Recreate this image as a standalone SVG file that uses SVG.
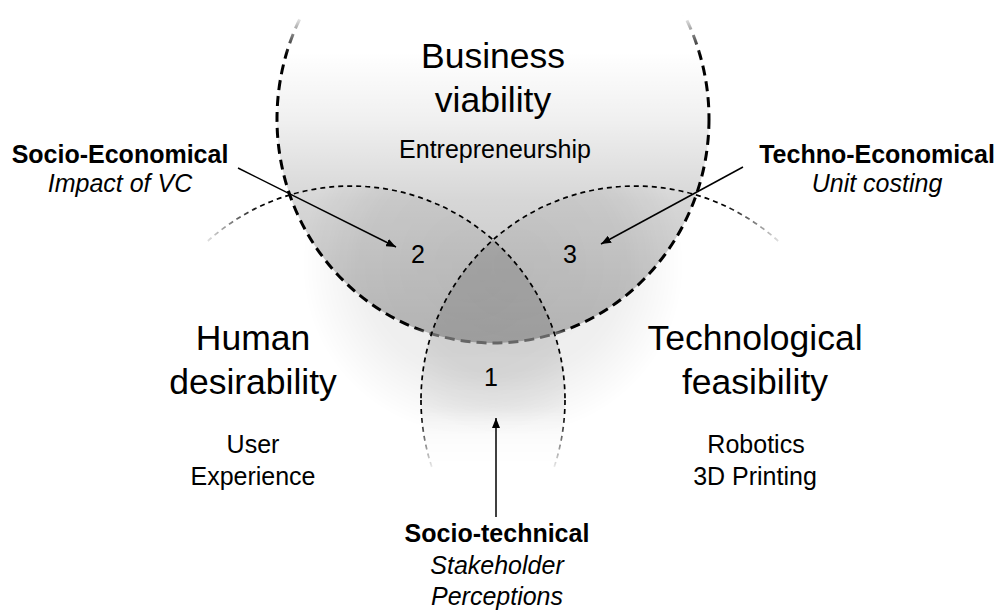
<svg xmlns="http://www.w3.org/2000/svg" width="998" height="610" viewBox="0 0 998 610">
<style>
text{font-family:"Liberation Sans",Arial,sans-serif;fill:#000;text-anchor:middle}
.big{font-size:35.5px}
.sm{font-size:25px}
.b{font-weight:bold}
.i{font-style:italic}
.thin{fill:none;stroke-width:1.7;stroke-dasharray:5 4}
.conn{stroke:#000;stroke-width:1.5;fill:none;marker-end:url(#ah)}
</style>
<defs>
<marker id="ah" viewBox="0 0 10 8" refX="10" refY="4" markerWidth="10" markerHeight="8" markerUnits="userSpaceOnUse" orient="auto">
<path d="M0,0 L10,4 L0,8 Z" fill="#000"/>
</marker>
<linearGradient id="topFill" gradientUnits="userSpaceOnUse" x1="0" y1="0" x2="0" y2="345">
<stop offset="0.15" stop-color="#000" stop-opacity="0"/>
<stop offset="0.348" stop-color="#000" stop-opacity="0.06"/>
<stop offset="0.58" stop-color="#000" stop-opacity="0.16"/>
<stop offset="1" stop-color="#000" stop-opacity="0.25"/>
</linearGradient>
<linearGradient id="topStroke" gradientUnits="userSpaceOnUse" x1="0" y1="10" x2="0" y2="345">
<stop offset="0.015" stop-color="#000" stop-opacity="0"/>
<stop offset="0.134" stop-color="#000" stop-opacity="1"/>
<stop offset="0.949" stop-color="#000"/>
<stop offset="0.964" stop-color="#666"/>
<stop offset="1" stop-color="#666"/>
</linearGradient>
<radialGradient id="leftFill" gradientUnits="userSpaceOnUse" cx="472" cy="265" r="170">
<stop offset="0" stop-color="#000" stop-opacity="0.085"/>
<stop offset="0.65" stop-color="#000" stop-opacity="0.06"/>
<stop offset="1" stop-color="#000" stop-opacity="0"/>
</radialGradient>
<radialGradient id="rightFill" gradientUnits="userSpaceOnUse" cx="514" cy="265" r="170">
<stop offset="0" stop-color="#000" stop-opacity="0.085"/>
<stop offset="0.65" stop-color="#000" stop-opacity="0.06"/>
<stop offset="1" stop-color="#000" stop-opacity="0"/>
</radialGradient>
<linearGradient id="lensFill" gradientUnits="userSpaceOnUse" x1="0" y1="330" x2="0" y2="472">
<stop offset="0" stop-color="#000" stop-opacity="0.06"/>
<stop offset="0.6" stop-color="#000" stop-opacity="0.05"/>
<stop offset="1" stop-color="#000" stop-opacity="0"/>
</linearGradient>
<clipPath id="rightClip"><circle cx="635" cy="400" r="214"/></clipPath>
<linearGradient id="fadeDown" gradientUnits="userSpaceOnUse" x1="0" y1="405" x2="0" y2="472">
<stop offset="0" stop-color="#fff"/>
<stop offset="1" stop-color="#000"/>
</linearGradient>
<mask id="bottomMask" maskUnits="userSpaceOnUse" x="0" y="0" width="998" height="610">
<rect x="0" y="0" width="998" height="610" fill="url(#fadeDown)"/>
</mask>
<linearGradient id="leftEnd" gradientUnits="userSpaceOnUse" x1="200" y1="0" x2="262" y2="0">
<stop offset="0" stop-color="#000" stop-opacity="0"/>
<stop offset="1" stop-color="#000" stop-opacity="1"/>
</linearGradient>
<linearGradient id="rightEnd" gradientUnits="userSpaceOnUse" x1="786" y1="0" x2="724" y2="0">
<stop offset="0" stop-color="#000" stop-opacity="0"/>
<stop offset="1" stop-color="#000" stop-opacity="1"/>
</linearGradient>
<linearGradient id="downEnd" gradientUnits="userSpaceOnUse" x1="0" y1="412" x2="0" y2="472">
<stop offset="0" stop-color="#000" stop-opacity="1"/>
<stop offset="1" stop-color="#000" stop-opacity="0"/>
</linearGradient>
</defs>
<rect width="998" height="610" fill="#fff"/>

<g id="business-viability">
<ellipse cx="493" cy="119" rx="216" ry="224" fill="url(#topFill)"/>
</g>
<g id="human-desirability">
<circle cx="351" cy="400" r="214" fill="url(#leftFill)" mask="url(#bottomMask)"/>
</g>
<g id="technological-feasibility">
<circle cx="635" cy="400" r="214" fill="url(#rightFill)" mask="url(#bottomMask)"/>
</g>
<g id="lens-1">
<circle cx="351" cy="400" r="214" fill="url(#lensFill)" clip-path="url(#rightClip)" mask="url(#bottomMask)"/>
</g>

<g id="outlines">
<ellipse cx="493" cy="119" rx="216" ry="224" fill="none" stroke="url(#topStroke)" stroke-width="3" stroke-dasharray="10 6"/>
<path class="thin" stroke="url(#leftEnd)" d="M207.8,241 A214,214 0 0 1 565,400"/>
<path class="thin" stroke="url(#downEnd)" d="M565,400 A214,214 0 0 1 553.2,470"/>
<path class="thin" stroke="url(#rightEnd)" d="M778.2,241 A214,214 0 0 0 421,400"/>
<path class="thin" stroke="url(#downEnd)" d="M421,400 A214,214 0 0 0 432.8,470"/>
</g>

<g id="labels-business">
<text class="big" x="493" y="68">Business</text>
<text class="big" x="493" y="112">viability</text>
<text class="sm" x="495" y="158">Entrepreneurship</text>
</g>
<g id="labels-human">
<text class="big" x="253" y="350">Human</text>
<text class="big" x="253" y="394">desirability</text>
<text class="sm" x="253" y="453">User</text>
<text class="sm" x="253" y="485">Experience</text>
</g>
<g id="labels-tech">
<text class="big" x="755" y="350">Technological</text>
<text class="big" x="755" y="394">feasibility</text>
<text class="sm" x="756" y="453">Robotics</text>
<text class="sm" x="755" y="485">3D Printing</text>
</g>
<g id="region-numbers">
<text class="sm" x="418" y="263">2</text>
<text class="sm" x="570" y="263">3</text>
<text class="sm" x="491" y="386">1</text>
</g>
<g id="socio-economical">
<text class="sm b" x="120" y="163">Socio-Economical</text>
<text class="sm i" x="120" y="192">Impact of VC</text>
</g>
<g id="techno-economical">
<text class="sm b" x="877" y="163">Techno-Economical</text>
<text class="sm i" x="877" y="192">Unit costing</text>
</g>
<g id="socio-technical">
<text class="sm b" x="497" y="542">Socio-technical</text>
<text class="sm i" x="497" y="574">Stakeholder</text>
<text class="sm i" x="497" y="605">Perceptions</text>
</g>

<g id="connectors">
<path class="conn" d="M238,168 L396,247"/>
<path class="conn" d="M743,167 L601,244"/>
<path class="conn" d="M496,517 L496,418"/>
</g>
</svg>
